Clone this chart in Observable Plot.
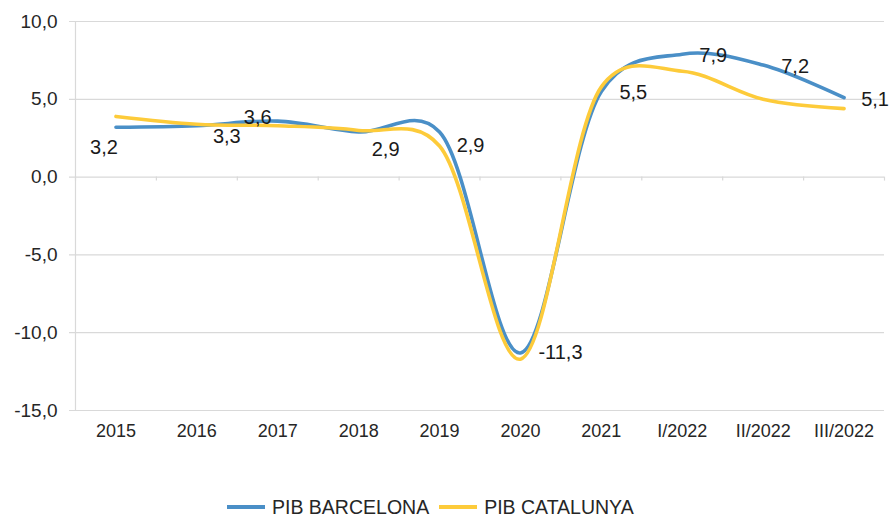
<!DOCTYPE html>
<html>
<head>
<meta charset="utf-8">
<script src="https://cdn.jsdelivr.net/npm/d3@7"></script>
<script src="https://cdn.jsdelivr.net/npm/@observablehq/plot@0.6"></script>
<style>
  html, body { margin: 0; padding: 0; background: #fff; }
  body { width: 891px; height: 517px; overflow: hidden; font-family: "Liberation Sans", Arial, sans-serif; }
  #legend { height: 20px; line-height: 20px; display: flex; align-items: center; padding-left: 227px; font-size: 19.5px; color: #262626; }
  .sw { display: inline-block; width: 38px; height: 4px; margin-right: 7px; }
  .item { display: flex; align-items: center; margin-right: 10px; }
</style>
</head>
<body>
<div id="chart"></div>
<div id="legend"></div>
<script>
const categories = ["2015", "2016", "2017", "2018", "2019", "2020", "2021", "I/2022", "II/2022", "III/2022"];
const barcelona = [3.2, 3.3, 3.6, 2.9, 2.9, -11.3, 5.5, 7.9, 7.2, 5.1];
const catalunya = [3.9, 3.4, 3.3, 3.0, 2.0, -11.7, 5.8, 6.8, 5.0, 4.4];
const seriesNames = ["PIB BARCELONA", "PIB CATALUNYA"];
const yTicks = [-15, -10, -5, 0, 5, 10];

// label offsets (style only)
const labelDx = [-12, 30, -20, 27, 31, 40, 32, 31, 32, 31];
const labelDy = [20, 11, -3, 18, 14, 0, 1, 1, 2, 2];

const colors = ["#4A8FC7", "#FDCB3A"];
const fmt = v => v.toFixed(1).replace(".", ",");
const smooth = d3.curveCatmullRom.alpha(0.2);

const idx = categories.map((c, i) => i);
const rowsB = idx.map(i => ({i, v: barcelona[i]}));
const rowsC = idx.map(i => ({i, v: catalunya[i]}));
const boundaries = d3.range(categories.length + 1).map(k => k - 0.5);

const chart = Plot.plot({
  width: 891,
  height: 497,
  marginLeft: 75,
  marginRight: 7,
  marginTop: 21,
  marginBottom: 87,
  style: { fontFamily: "'Liberation Sans', Arial, sans-serif", fontSize: "19px", color: "#262626", background: "#fff" },
  x: { type: "linear", domain: [-0.5, categories.length - 0.5], label: null },
  y: { domain: [-15, 10], label: null },
  marks: [
    Plot.ruleY(yTicks, { stroke: "#d9d9d9", strokeWidth: 1.2, insetLeft: -6 }),
    Plot.ruleX([-0.5], { stroke: "#d9d9d9", strokeWidth: 1.2 }),
    Plot.ruleX(boundaries, { y1: 0, y2: 0, insetBottom: -4, stroke: "#d9d9d9", strokeWidth: 1.2 }),
    Plot.axisY({ ticks: yTicks, tickFormat: fmt, tickSize: 0, tickPadding: 18, fontSize: 19, label: null }),
    Plot.axisX({ ticks: idx, tickFormat: i => categories[i], tickSize: 0, tickPadding: 14, fontSize: 18, label: null }),
    Plot.line(rowsB, { x: "i", y: "v", stroke: colors[0], strokeWidth: 3.6, curve: smooth }),
    Plot.line(rowsC, { x: "i", y: "v", stroke: colors[1], strokeWidth: 3.6, curve: smooth }),
    Plot.text(rowsB, { x: "i", y: "v", text: d => fmt(d.v), fontSize: 20, fill: "#1a1a1a" })
  ]
});

// apply per-label offsets
const texts = chart.querySelectorAll("g[aria-label='text'] text");
texts.forEach((t, k) => {
  const tr = t.getAttribute("transform") || "";
  t.setAttribute("transform", tr + ` translate(${labelDx[k]},${labelDy[k]})`);
});

document.getElementById("chart").appendChild(chart);

const legend = document.getElementById("legend");
seriesNames.forEach((name, k) => {
  const item = document.createElement("span");
  item.className = "item";
  const sw = document.createElement("span");
  sw.className = "sw";
  sw.style.background = colors[k];
  item.appendChild(sw);
  item.appendChild(document.createTextNode(name));
  legend.appendChild(item);
});
</script>
</body>
</html>
